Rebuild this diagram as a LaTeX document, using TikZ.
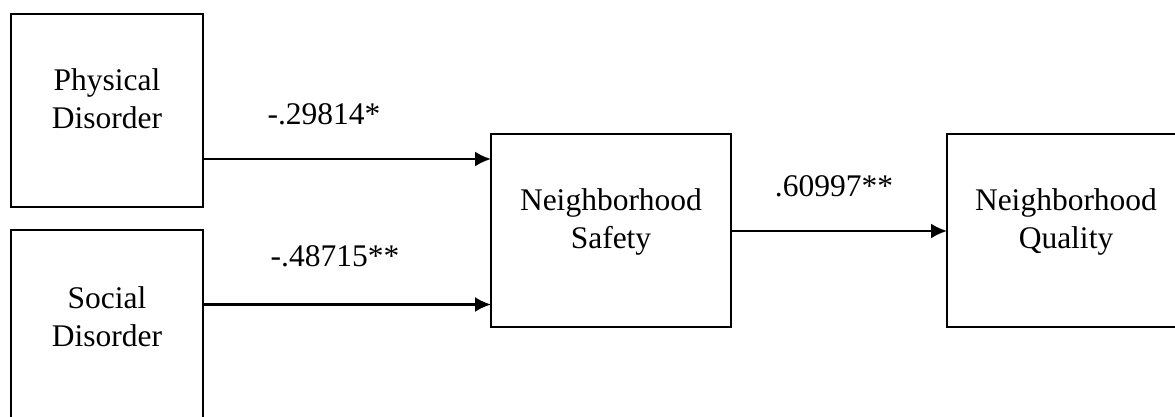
\documentclass[tikz,border=0pt]{standalone}
\usepackage{fontspec}
\setmainfont{Liberation Serif}
\usetikzlibrary{arrows.meta}
\begin{document}
\begin{tikzpicture}[x=0.5pt,y=-0.5pt,
  box/.style={draw,line width=1.1pt,inner sep=0pt,outer sep=0pt},
  txt/.style={align=center,inner sep=0pt,anchor=north,font=\fontsize{15.75}{19}\selectfont},
  lbl/.style={inner sep=0pt,anchor=base,font=\fontsize{15.75}{19}\selectfont},
  arr/.style={line width=1.1pt,-{Latex[length=8pt,width=7.5pt]}}]
\path[use as bounding box] (0,0) rectangle (1175,417);
\clip (0,0) rectangle (1175,417);
% boxes
\node[box,minimum width=96pt,minimum height=96.5pt] (pd) at (107,110.5) {};
\node[box,minimum width=96pt,minimum height=100pt] (sd) at (107,330) {};
\node[box,minimum width=120pt,minimum height=96.5pt] (ns) at (611,230.5) {};
\node[box,minimum width=120pt,minimum height=96.5pt] (nq) at (1067,230.5) {};
% box texts
\node[txt] (tpd) at (107,68.5) {Physical\\Disorder};
\node[txt] (tsd) at (107,286.5) {Social\\Disorder};
\node[txt] (tns) at (611,188.5) {Neighborhood\\Safety};
\node[txt] (tnq) at (1066,188.5) {Neighborhood\\Quality};
% connectors
\coordinate (a1) at ([yshift=-24.25pt]pd.east);
\coordinate (a2) at ([yshift=12.75pt]sd.east);
\coordinate (a3) at ([yshift=-0.25pt]ns.east);
\draw[arr] (a1) -- (a1 -| ns.west);
\draw[arr] (a2) -- (a2 -| ns.west);
\draw[arr] (a3) -- (a3 -| nq.west);
% labels
\node[lbl] (l1) at (324,125) {-.29814*};
\node[lbl] (l2) at (335,267) {-.48715**};
\node[lbl] (l3) at (834,197) {.60997**};
\end{tikzpicture}
\end{document}
